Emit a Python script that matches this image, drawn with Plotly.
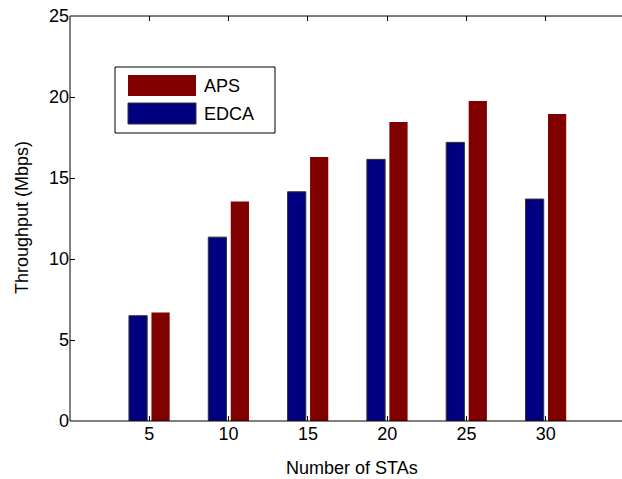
import plotly.graph_objects as go

categories = ["5", "10", "15", "20", "25", "30"]
edca = [6.5, 11.35, 14.15, 16.15, 17.2, 13.7]
aps = [6.7, 13.55, 16.3, 18.45, 19.75, 18.95]
y_ticks = [0, 5, 10, 15, 20, 25]

BLUE = "#000080"
RED = "#800000"
FONT = "Liberation Sans, Arial, sans-serif"
FS = 18

fig = go.Figure()
fig.add_trace(go.Bar(x=categories, y=edca, name="EDCA", marker=dict(color=BLUE, line=dict(color="#333333", width=1))))
fig.add_trace(go.Bar(x=categories, y=aps, name="APS", marker=dict(color=RED, line=dict(width=0))))

L, T, B, W, H = 70, 16, 58, 622, 479
pw = W - L
ph = H - T - B

def px(xp):
    return (xp - L) / pw

def py(yp):
    return (H - B - yp) / ph

shapes = [
    # axis box lines (left, bottom, top)
    dict(type="line", xref="paper", yref="paper", x0=0, x1=0, y0=0, y1=1,
         line=dict(color="black", width=1), layer="above"),
    dict(type="line", xref="paper", yref="paper", x0=0, x1=1, y0=0, y1=0,
         line=dict(color="black", width=1), layer="above"),
    dict(type="line", xref="paper", yref="paper", x0=0, x1=1, y0=1, y1=1,
         line=dict(color="black", width=1), layer="above"),
    # legend
    dict(type="rect", xref="paper", yref="paper", x0=px(115), x1=px(275), y0=py(133), y1=py(67),
         line=dict(color="black", width=1), fillcolor="white", layer="above"),
    dict(type="rect", xref="paper", yref="paper", x0=px(128), x1=px(196), y0=py(96), y1=py(75),
         line=dict(width=0), fillcolor=RED, layer="above"),
    dict(type="rect", xref="paper", yref="paper", x0=px(128), x1=px(196), y0=py(124), y1=py(103),
         line=dict(color="#333333", width=1), fillcolor=BLUE, layer="above"),
]
annotations = [
    dict(xref="paper", yref="paper", x=px(202), y=py(86), text="APS", showarrow=False,
         xanchor="left", yanchor="middle", font=dict(family=FONT, size=FS, color="black")),
    dict(xref="paper", yref="paper", x=px(202), y=py(114), text="EDCA", showarrow=False,
         xanchor="left", yanchor="middle", font=dict(family=FONT, size=FS, color="black")),
    dict(xref="paper", yref="paper", x=px(352), y=py(468), text="Number of STAs", showarrow=False,
         xanchor="center", yanchor="middle", font=dict(family=FONT, size=FS, color="black")),
    dict(xref="paper", yref="paper", x=px(22), y=py(218), text="Throughput (Mbps)", showarrow=False,
         textangle=-90, xanchor="center", yanchor="middle", font=dict(family=FONT, size=FS, color="black")),
]

fig.update_layout(
    width=W, height=H,
    margin=dict(l=L, r=0, t=T, b=B),
    paper_bgcolor="white", plot_bgcolor="white",
    barmode="group", bargap=0.433, bargroupgap=0.19,
    showlegend=False,
    font=dict(family=FONT, size=FS, color="black"),
    shapes=shapes, annotations=annotations,
    xaxis=dict(
        type="category", range=[-1, 5.96],
        showline=False, mirror="ticks",
        ticks="inside", ticklen=5, tickcolor="black",
        showgrid=False, zeroline=False,
        tickfont=dict(size=FS),
    ),
    yaxis=dict(
        range=[0, 25], tickvals=y_ticks,
        showline=False, mirror=False,
        ticks="inside", ticklen=5, tickcolor="black",
        showgrid=False, zeroline=False,
        tickfont=dict(size=FS),
    ),
)

fig.write_html("out.html")
